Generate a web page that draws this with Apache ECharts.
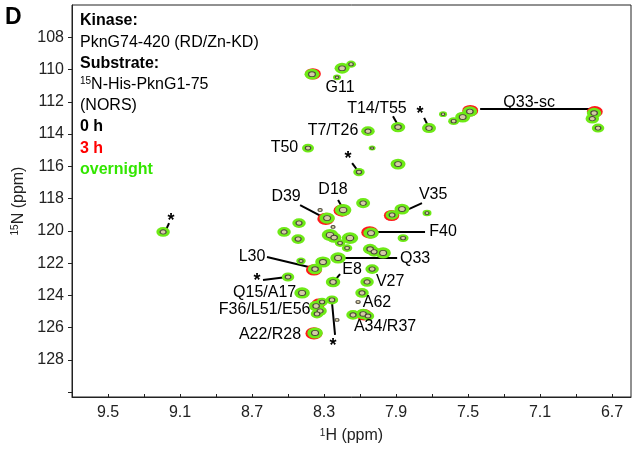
<!DOCTYPE html>
<html>
<head>
<meta charset="utf-8">
<script src="https://cdn.jsdelivr.net/npm/echarts@6/dist/echarts.min.js"></script>
<style>
html, body { margin: 0; padding: 0; background: #fff; }
#chart { width: 633px; height: 449px; }
</style>
</head>
<body>
<div id="chart"></div>
<script>
// peak lists: [1H ppm, 15N ppm, relative intensity]
var overnight = [
    [8.367, 110.29, 2.0], [8.200, 109.92, 2.0], [8.150, 109.67, 1.0], [8.228, 110.48, 0.6],
    [7.889, 113.57, 1.9], [8.056, 113.82, 1.7], [8.389, 114.87, 1.4], [8.033, 114.87, 0.4],
    [8.106, 116.36, 1.3], [7.889, 115.86, 2.0], [7.717, 113.63, 1.8], [7.639, 112.77, 0.6],
    [7.530, 112.95, 2.0], [7.490, 112.60, 1.9], [7.580, 113.20, 1.2],
    [6.800, 112.70, 1.9], [6.810, 113.05, 1.7], [6.778, 113.63, 1.5],
    [9.194, 120.07, 1.7], [8.194, 118.71, 2.3], [8.283, 119.21, 2.1], [8.083, 118.28, 1.8],
    [7.867, 118.65, 2.0], [7.922, 119.02, 1.6], [7.728, 118.90, 0.8], [8.439, 119.52, 1.7],
    [8.522, 120.07, 1.7], [8.444, 120.51, 1.7], [8.267, 120.26, 2.3], [8.244, 120.42, 1.9],
    [8.156, 120.45, 2.3], [8.211, 120.76, 1.1], [8.172, 121.07, 1.1], [8.039, 120.14, 2.1],
    [7.861, 120.45, 1.2], [8.044, 121.13, 1.9], [8.022, 121.30, 1.7], [7.972, 121.37, 2.1],
    [8.222, 121.68, 2.1], [8.306, 121.93, 2.1], [8.428, 121.87, 0.9], [8.350, 122.37, 1.9],
    [8.033, 122.37, 1.7], [8.500, 122.86, 1.5], [8.250, 123.17, 1.9], [8.061, 123.17, 1.7],
    [8.422, 123.85, 2.1], [8.089, 123.85, 1.7], [8.256, 124.28, 1.5],
    [8.344, 124.66, 1.9], [8.322, 124.97, 1.7], [8.339, 125.15, 1.5], [8.311, 124.41, 1.3],
    [8.139, 125.21, 1.7], [8.083, 125.15, 1.9], [8.056, 125.28, 1.5], [8.350, 126.33, 2.1]
];
var peaks3h = [
    [8.290, 119.26, 2.1], [7.925, 119.05, 1.8], [8.046, 120.10, 2.1], [8.356, 122.42, 1.9],
    [8.356, 126.36, 2.1], [7.488, 112.55, 1.9], [6.796, 112.62, 1.9], [8.078, 125.20, 1.9],
    [8.330, 124.50, 1.5], [8.200, 118.74, 2.1], [8.362, 110.27, 1.9]
];
var only0h = [
    [8.322, 118.71, 0.9], [8.250, 119.76, 0.8], [8.111, 124.41, 0.9], [8.228, 125.52, 0.8]
];
// annotations: text, label position, leader line (from, to)
var labels = [
    ['G11', 8.211, 111.10], ['T14/T55', 8.006, 112.40], ['T7/T26', 8.250, 113.76],
    ['T50', 8.520, 114.87], ['Q33-sc', 7.161, 112.02], ['D18', 8.250, 117.47],
    ['D39', 8.511, 117.90], ['V35', 7.694, 117.78], ['F40', 7.639, 120.07],
    ['Q33', 7.794, 121.75], ['L30', 8.700, 121.62], ['E8', 8.144, 122.43],
    ['V27', 7.933, 123.17], ['Q15/A17', 8.630, 123.85], ['A62', 8.006, 124.47],
    ['F36/L51/E56', 8.630, 124.90], ['A34/R37', 7.961, 125.96], ['A22/R28', 8.600, 126.45]
];
var stars = [
    [8.167, 115.55], [7.767, 112.78], [9.150, 119.40], [8.672, 123.12], [8.250, 127.12]
];
var leaders = [
    [[7.917, 112.89], [7.889, 113.45]], [[8.144, 115.80], [8.111, 116.30]],
    [[7.744, 113.00], [7.722, 113.50]], [[7.433, 112.46], [6.800, 112.46]],
    [[9.183, 120.07], [9.161, 119.52]], [[8.222, 118.09], [8.200, 118.53]],
    [[8.433, 118.40], [8.306, 119.15]], [[7.756, 118.28], [7.878, 118.90]],
    [[8.006, 120.07], [7.739, 120.07]], [[8.194, 121.68], [7.894, 121.68]],
    [[8.617, 121.62], [8.361, 122.30]], [[8.211, 122.68], [8.239, 123.05]],
    [[8.639, 123.05], [8.506, 122.86]], [[8.256, 124.41], [8.239, 126.45]]
];
var xTicks = [6.7, 6.9, 7.1, 7.3, 7.5, 7.7, 7.9, 8.1, 8.3, 8.5, 8.7, 8.9, 9.1, 9.3, 9.5];
var xLabels = [6.7, 7.1, 7.5, 7.9, 8.3, 8.7, 9.1, 9.5];
var yTicks = [108, 110, 112, 114, 116, 118, 120, 122, 124, 126, 128, 130];
var yLabels = [108, 110, 112, 114, 116, 118, 120, 122, 124, 126, 128];

var FONT = 'Liberation Sans, Arial, sans-serif';

function peakSize(v, k) {
    var w = (5 + 5 * v[2]) * k;
    return [w, w * 0.72];
}

var chart = echarts.init(document.getElementById('chart'), null, {renderer: 'canvas'});

var legendLines = [
    ['Kinase:', 'bold', '#000'],
    ['PknG74-420 (RD/Zn-KD)', 'normal', '#000'],
    ['Substrate:', 'bold', '#000'],
    ['{sup|15}N-His-PknG1-75', 'normal', '#000'],
    ['(NORS)', 'normal', '#000'],
    ['0 h', 'bold', '#000'],
    ['3 h', 'bold', '#ff0000'],
    ['overnight', 'bold', '#33e600']
];

var graphics = [{
    type: 'text', left: 5, top: 6,
    style: {text: 'D', fontSize: 23, fontWeight: 'bold', fontFamily: FONT, fill: '#000'}
}];
legendLines.forEach(function (l, i) {
    graphics.push({
        type: 'text', left: 80, top: 13 + i * 21.2,
        style: {
            text: l[0], fontSize: 16, fontWeight: l[1], fontFamily: FONT, fill: l[2],
            rich: {sup: {fontSize: 10, verticalAlign: 'top', fontFamily: FONT, fill: l[2], padding: [0, 0, 6, 0]}}
        }
    });
});

chart.setOption({
    animation: false,
    grid: {left: 72, right: 2, top: 5, bottom: 52, show: true, borderColor: '#222', borderWidth: 1},
    graphic: graphics,
    xAxis: {
        type: 'value', inverse: true, min: 6.595, max: 9.7,
        name: '{sup|1}H (ppm)', nameLocation: 'middle', nameGap: 31,
        nameTextStyle: {fontSize: 16, fontFamily: FONT, color: '#222',
            rich: {sup: {fontSize: 10, verticalAlign: 'top', padding: [0, 0, 6, 0]}}},
        axisLine: {lineStyle: {color: '#222'}},
        axisTick: {inside: true, length: 3, customValues: xTicks, lineStyle: {color: '#222'}},
        axisLabel: {customValues: xLabels, fontSize: 16, fontFamily: FONT, color: '#222', margin: 8,
            formatter: function (v) { return v.toFixed(1); }},
        splitLine: {show: false}
    },
    yAxis: {
        type: 'value', inverse: true, min: 106, max: 130.3,
        name: '{sup|15}N (ppm)', nameLocation: 'middle', nameGap: 45, nameRotate: 90,
        nameTextStyle: {fontSize: 16, fontFamily: FONT, color: '#222',
            rich: {sup: {fontSize: 10, verticalAlign: 'top', padding: [0, 0, 6, 0]}}},
        axisLine: {lineStyle: {color: '#222'}},
        axisTick: {inside: false, length: 4, customValues: yTicks, lineStyle: {color: '#222'}},
        axisLabel: {customValues: yLabels, fontSize: 16, fontFamily: FONT, color: '#222', margin: 8},
        splitLine: {show: false}
    },
    series: [{
        name: '3 h', type: 'scatter', data: peaks3h,
        symbolSize: function (v) { return peakSize(v, 1.1); },
        itemStyle: {color: '#ff1a1a', opacity: 1}
    }, {
        name: 'overnight', type: 'scatter', data: overnight,
        symbolSize: function (v) { return peakSize(v, 1); },
        itemStyle: {color: '#6eea16', opacity: 1}
    }, {
        name: '0 h', type: 'scatter', data: overnight.concat(only0h),
        symbolSize: function (v) { return peakSize(v, 0.45); },
        itemStyle: {color: '#d4cba6', borderColor: '#4a463a', borderWidth: 1, opacity: 1}
    }, {
        type: 'lines', coordinateSystem: 'cartesian2d', polyline: false,
        data: leaders.map(function (c) { return {coords: c}; }),
        lineStyle: {color: '#000', width: 2, opacity: 1}
    }, {
        type: 'scatter', symbolSize: 0,
        itemStyle: {opacity: 1},
        data: labels.map(function (l) { return {name: l[0], value: [l[1], l[2]]}; }),
        label: {show: true, position: 'inside', formatter: '{b}', fontSize: 16, fontFamily: FONT,
            color: '#000', opacity: 1, textBorderWidth: 0}
    }, {
        type: 'scatter', symbolSize: 0,
        itemStyle: {opacity: 1},
        data: stars,
        label: {show: true, position: 'inside', formatter: '*', fontSize: 18, fontWeight: 'bold', fontFamily: FONT,
            color: '#000', opacity: 1, textBorderWidth: 0}
    }]
});
</script>
</body>
</html>
